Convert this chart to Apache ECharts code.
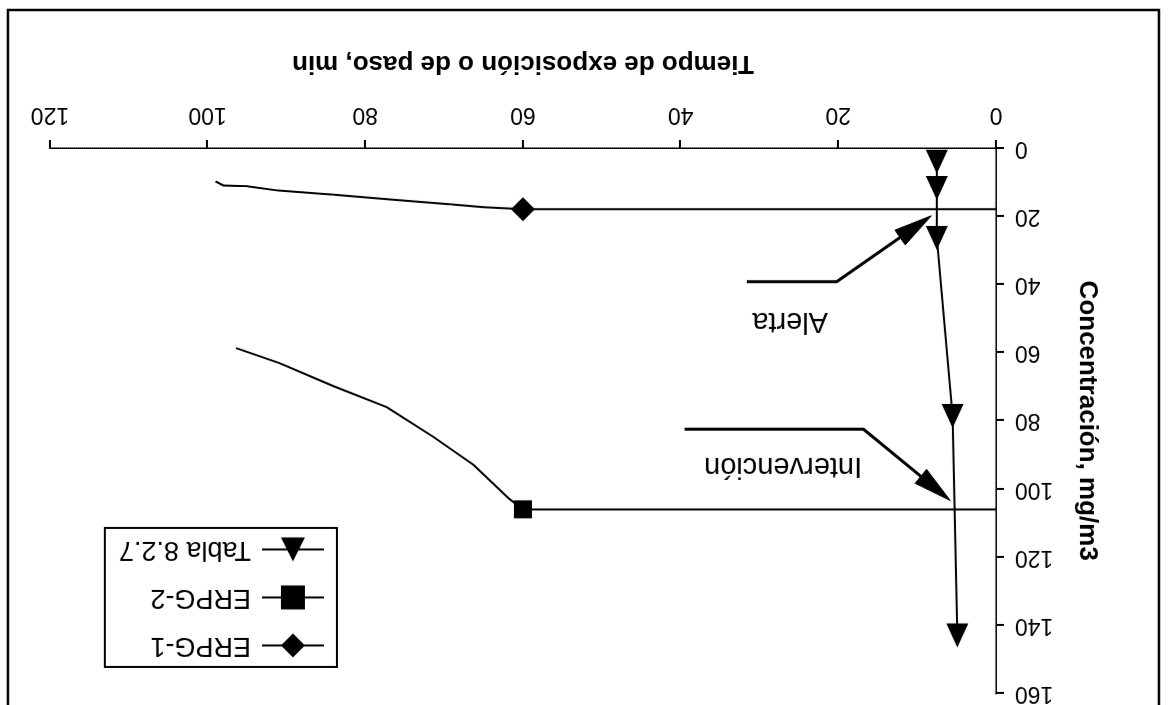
<!DOCTYPE html>
<html>
<head>
<meta charset="utf-8">
<script src="https://cdn.jsdelivr.net/npm/echarts@6/dist/echarts.min.js"></script>
<style>
  html, body { margin: 0; padding: 0; background: #fff; }
  /* the source scan is upside down, so the whole chart is turned over */
  #chart { width: 1171px; height: 705px; transform: rotate(180deg); }
</style>
</head>
<body>
<div id="chart"></div>
<script>
var FONT = '"Liberation Sans", Arial, sans-serif';

// axis ticks
var timeTicks = [0, 20, 40, 60, 80, 100, 120];
var concTicks = [0, 20, 40, 60, 80, 100, 120, 140, 160];

// ERPG-1 (diamond marks the 60 min value)
var erpg1Time = [0, 60, 65, 69, 76.5, 84, 91, 95, 98, 99];
var erpg1Conc = [18, 18, 17.4, 16.6, 15.2, 13.7, 12.5, 11.2, 11.0, 9.8];
var erpg1Mark = 1;

// ERPG-2 (square marks the 60 min value)
var erpg2Time = [0, 60, 61.7, 66.3, 71.4, 77.3, 84.1, 90.9, 96.4];
var erpg2Conc = [106, 106, 103, 92.9, 84.7, 76, 69.8, 63.1, 58.7];
var erpg2Mark = 1;

// Tabla 8.2.7
var tablaTime = [7.5, 7.5, 7.5, 5.5, 4.9];
var tablaConc = [4, 11.7, 26.4, 78.6, 143];

// callouts, in data units
var alertaPath = [[31.6, 39.2], [20.2, 39.2], [8.2, 19.9]];
var alertaLabel = [26.1, 50.6];
var intervPath = [[39.5, 82.5], [16.8, 82.5], [5.8, 103.4]];
var intervLabel = [27, 93.2];

function pairs(xs, ys, markIdx) {
  return xs.map(function (x, i) {
    var item = { value: [x, ys[i]] };
    if (markIdx !== undefined && i !== markIdx) item.symbol = 'none';
    return item;
  });
}

var chart = echarts.init(document.getElementById('chart'));

var axisText = { color: '#000', fontFamily: FONT, fontSize: 23 };

var option = {
  backgroundColor: '#fff',
  animation: false,
  textStyle: { fontFamily: FONT, color: '#000' },
  grid: { left: 175, right: 50, top: 11, bottom: 148 },
  legend: {
    orient: 'vertical',
    left: 834,
    top: 38,
    padding: [8, 14, 8, 12],
    itemWidth: 62,
    itemHeight: 30,
    itemGap: 21,
    backgroundColor: '#fff',
    borderColor: '#000',
    borderWidth: 2,
    borderRadius: 0,
    textStyle: { color: '#000', fontFamily: FONT, fontSize: 27, padding: [0, 0, 0, 6] },
    data: ['ERPG-1', 'ERPG-2', 'Tabla 8.2.7']
  },
  xAxis: [{
    type: 'value',
    position: 'bottom',
    min: timeTicks[0],
    max: timeTicks[timeTicks.length - 1],
    interval: timeTicks[1] - timeTicks[0],
    name: 'Tiempo de exposición o de paso, min',
    nameLocation: 'middle',
    nameGap: 72,
    nameTextStyle: { color: '#000', fontFamily: FONT, fontSize: 26, fontWeight: 'bold' },
    axisLine: { lineStyle: { color: '#000', width: 2 } },
    axisTick: { length: 8, lineStyle: { color: '#000', width: 2 } },
    axisLabel: Object.assign({ margin: 22 }, axisText),
    splitLine: { show: false }
  }, {
    type: 'value',
    position: 'top',
    min: timeTicks[0],
    max: timeTicks[timeTicks.length - 1],
    axisLine: { lineStyle: { color: '#999', width: 1, type: 'dotted' } },
    axisTick: { show: false },
    axisLabel: { show: false },
    splitLine: { show: false }
  }],
  yAxis: [{
    type: 'value',
    position: 'left',
    min: concTicks[0],
    max: concTicks[concTicks.length - 1],
    interval: concTicks[1] - concTicks[0],
    name: 'Concentración, mg/m3',
    nameLocation: 'middle',
    nameGap: 78,
    nameTextStyle: { color: '#000', fontFamily: FONT, fontSize: 26, fontWeight: 'bold' },
    axisLine: { show: true, lineStyle: { color: '#000', width: 2 } },
    axisTick: { show: true, length: 8, lineStyle: { color: '#000', width: 2 } },
    axisLabel: Object.assign({ margin: 19 }, axisText),
    splitLine: { show: false }
  }, {
    type: 'value',
    position: 'right',
    min: concTicks[0],
    max: concTicks[concTicks.length - 1],
    axisLine: { show: true, lineStyle: { color: '#999', width: 1, type: 'dotted' } },
    axisTick: { show: false },
    axisLabel: { show: false },
    splitLine: { show: false }
  }],
  series: [{
    name: 'ERPG-1',
    type: 'line',
    symbol: 'diamond',
    symbolSize: 24,
    showAllSymbol: true,
    color: '#000',
    lineStyle: { color: '#000', width: 2 },
    itemStyle: { color: '#000' },
    data: pairs(erpg1Time, erpg1Conc, erpg1Mark)
  }, {
    name: 'ERPG-2',
    type: 'line',
    symbol: 'rect',
    symbolSize: 18,
    showAllSymbol: true,
    color: '#000',
    lineStyle: { color: '#000', width: 2 },
    itemStyle: { color: '#000' },
    data: pairs(erpg2Time, erpg2Conc, erpg2Mark)
  }, {
    name: 'Tabla 8.2.7',
    type: 'line',
    symbol: 'triangle',
    symbolSize: [22, 24],
    showAllSymbol: true,
    color: '#000',
    lineStyle: { color: '#000', width: 2 },
    itemStyle: { color: '#000' },
    data: pairs(tablaTime, tablaConc)
  }]
};

chart.setOption(option);

// callouts with arrows, placed from data units
function callout(id, path, labelAt, text) {
  var pts = path.map(function (p) { return chart.convertToPixel({ xAxisIndex: 0, yAxisIndex: 0 }, p); });
  var tip = pts[pts.length - 1], prev = pts[pts.length - 2];
  var dx = tip[0] - prev[0], dy = tip[1] - prev[1];
  var len = Math.sqrt(dx * dx + dy * dy);
  var ux = dx / len, uy = dy / len;
  var headLen = 38, headW = 9;
  var base = [tip[0] - ux * headLen, tip[1] - uy * headLen];
  var linePts = pts.slice(0, -1).concat([base]);
  var lp = chart.convertToPixel({ xAxisIndex: 0, yAxisIndex: 0 }, labelAt);
  return [{
    type: 'polyline', id: id + '-line', silent: true, z: 100,
    shape: { points: linePts },
    style: { stroke: '#000', lineWidth: 3, fill: null }
  }, {
    type: 'polygon', id: id + '-head', silent: true, z: 100,
    shape: { points: [tip, [base[0] - uy * headW, base[1] + ux * headW], [base[0] + uy * headW, base[1] - ux * headW]] },
    style: { fill: '#000', stroke: '#000', lineWidth: 1 }
  }, {
    type: 'text', id: id + '-text', silent: true, z: 100,
    x: lp[0], y: lp[1],
    style: { text: text, fill: '#000', font: '29px ' + FONT, textAlign: 'center', textVerticalAlign: 'middle' }
  }];
}

var graphics = [{
  type: 'rect', id: 'frame', silent: true, z: 100,
  shape: { x: 12, y: -10, width: 1151, height: 705 },
  style: { fill: null, stroke: '#000', lineWidth: 2.5 }
}].concat(
  callout('alerta', alertaPath, alertaLabel, 'Alerta'),
  callout('interv', intervPath, intervLabel, 'Intervención')
);

chart.setOption({ graphic: graphics });

window.addEventListener('resize', function () {
  chart.resize();
});
</script>
</body>
</html>
